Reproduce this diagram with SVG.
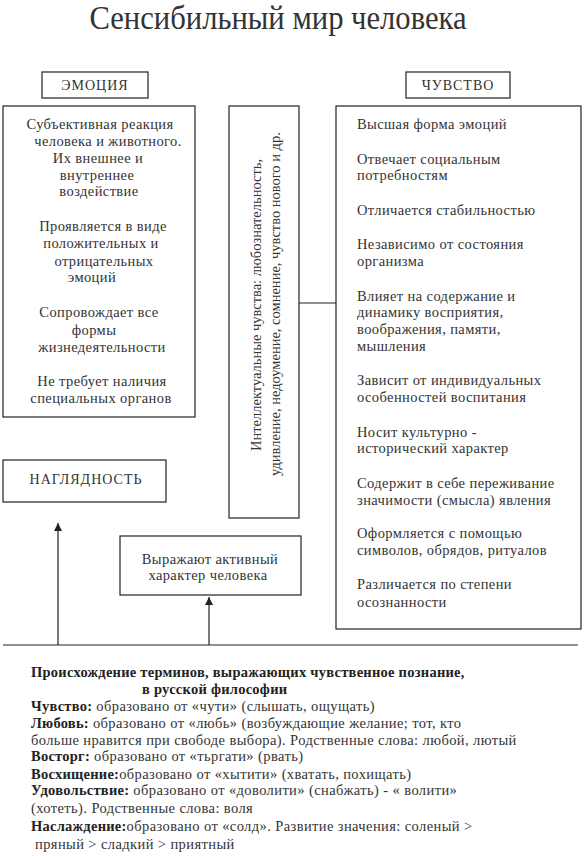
<svg xmlns="http://www.w3.org/2000/svg" width="584" height="856" viewBox="0 0 584 856">
<style>
.box{fill:#fff;stroke:#222;stroke-width:1.2}
.t{font-family:"Liberation Serif",serif;font-size:14.5px;fill:#333;letter-spacing:0.4px}
.v{font-family:"Liberation Serif",serif;font-size:14.5px;fill:#333;text-anchor:middle}
.c{text-anchor:middle}
.lbl{font-family:"Liberation Serif",serif;font-size:14px;fill:#333;text-anchor:middle;letter-spacing:1px}
.b{font-weight:bold;fill:#222;letter-spacing:0.25px}
.ln{stroke:#222;stroke-width:1.2;fill:none}
</style>
<defs>
<marker id="ah" markerWidth="8" markerHeight="8" refX="8" refY="4" orient="auto" markerUnits="userSpaceOnUse" viewBox="0 0 8 8">
<path d="M0,0 L8,4 L0,8 Z" fill="#222"/>
</marker>
</defs>
<rect width="584" height="856" fill="#fff"/>
<text x="278" y="29" font-family="Liberation Serif,serif" font-size="33" fill="#333" text-anchor="middle" textLength="377" lengthAdjust="spacingAndGlyphs">Сенсибильный мир человека</text>

<g id="emotion-label"><rect class="box" x="42" y="72" width="106" height="26"/><text class="lbl" x="95" y="90">ЭМОЦИЯ</text></g>
<g id="feeling-label"><rect class="box" x="406" y="72" width="104" height="26"/><text class="lbl" x="458" y="90">ЧУВСТВО</text></g>

<g id="emotion-box"><rect class="box" x="3" y="106" width="192" height="311"/>
<text class="t c" x="100" y="129">Субъективная реакция</text>
<text class="t c" x="108" y="146">человека и животного.</text>
<text class="t c" x="98" y="163">Их внешнее и</text>
<text class="t c" x="97" y="180">внутреннее</text>
<text class="t c" x="99" y="196">воздействие</text>
<text class="t c" x="103" y="231">Проявляется в виде</text>
<text class="t c" x="101" y="248">положительных и</text>
<text class="t c" x="104" y="266">отрицательных</text>
<text class="t c" x="92" y="282">эмоций</text>
<text class="t c" x="99" y="317">Сопровождает все</text>
<text class="t c" x="94" y="335">формы</text>
<text class="t c" x="102" y="352">жизнедеятельности</text>
<text class="t c" x="102" y="386">Не требует наличия</text>
<text class="t c" x="101" y="403">специальных органов</text>
</g>

<g id="intellect-box"><rect class="box" x="229" y="106" width="70" height="412"/>
<text class="v" transform="translate(261,305) rotate(-90)">Интеллектуальные чувства: любознательность,</text>
<text class="v" transform="translate(280,304) rotate(-90)">удивление, недоумение, сомнение, чувство нового и др.</text>
</g>

<g id="feeling-box"><rect class="box" x="336" y="106" width="245" height="523"/>
<text class="t" x="357" y="129">Высшая форма эмоций</text>
<text class="t" x="357" y="164">Отвечает социальным</text>
<text class="t" x="357" y="180">потребностям</text>
<text class="t" x="357" y="215">Отличается стабильностью</text>
<text class="t" x="357" y="249">Независимо от состояния</text>
<text class="t" x="357" y="266">организма</text>
<text class="t" x="357" y="301">Влияет на содержание и</text>
<text class="t" x="357" y="317">динамику восприятия,</text>
<text class="t" x="357" y="334">воображения, памяти,</text>
<text class="t" x="357" y="351">мышления</text>
<text class="t" x="357" y="385">Зависит от индивидуальных</text>
<text class="t" x="357" y="402">особенностей воспитания</text>
<text class="t" x="357" y="437">Носит культурно -</text>
<text class="t" x="357" y="453">исторический характер</text>
<text class="t" x="357" y="488">Содержит в себе переживание</text>
<text class="t" x="357" y="505">значимости (смысла) явления</text>
<text class="t" x="357" y="538">Оформляется с помощью</text>
<text class="t" x="357" y="555">символов, обрядов, ритуалов</text>
<text class="t" x="357" y="589">Различается по степени</text>
<text class="t" x="357" y="607">осознанности</text>
</g>

<g id="visibility-box"><rect class="box" x="3" y="460" width="163" height="42"/>
<text class="lbl" x="86" y="484">НАГЛЯДНОСТЬ</text></g>

<g id="active-box"><rect class="box" x="120" y="536" width="181" height="59"/>
<text class="t c" x="210" y="564">Выражают активный</text>
<text class="t c" x="208" y="580">характер человека</text></g>

<g id="connectors">
<line class="ln" x1="299" y1="303" x2="336" y2="303"/>
<line class="ln" x1="3" y1="645" x2="578" y2="645"/>
<line class="ln" x1="58" y1="645" x2="58" y2="523" marker-end="url(#ah)"/>
<line class="ln" x1="209" y1="645" x2="209" y2="597" marker-end="url(#ah)"/>
</g>

<g id="etymology">
<text class="t b" x="31" y="677">Происхождение терминов, выражающих чувственное познание,</text>
<text class="t b" x="142" y="694">в русской философии</text>
<text class="t" x="31" y="711"><tspan class="b">Чувство:</tspan> образовано от «чути» (слышать, ощущать)</text>
<text class="t" x="31" y="728"><tspan class="b">Любовь:</tspan> образовано от «любь» (возбуждающие желание; тот, кто</text>
<text class="t" x="31" y="745">больше нравится при свободе выбора). Родственные слова: любой, лютый</text>
<text class="t" x="31" y="761"><tspan class="b">Восторг:</tspan> образовано от «тьргати» (рвать)</text>
<text class="t" x="31" y="779"><tspan class="b">Восхищение:</tspan>образовано от «хытити» (хватать, похищать)</text>
<text class="t" x="31" y="795"><tspan class="b">Удовольствие:</tspan> образовано от «доволити» (снабжать) - « волити»</text>
<text class="t" x="31" y="813">(хотеть). Родственные слова: воля</text>
<text class="t" x="31" y="831"><tspan class="b">Наслаждение:</tspan>образовано от «солд».  Развитие значения: соленый &gt;</text>
<text class="t" x="35" y="849">пряный &gt; сладкий &gt; приятный</text>
</g>
</svg>
